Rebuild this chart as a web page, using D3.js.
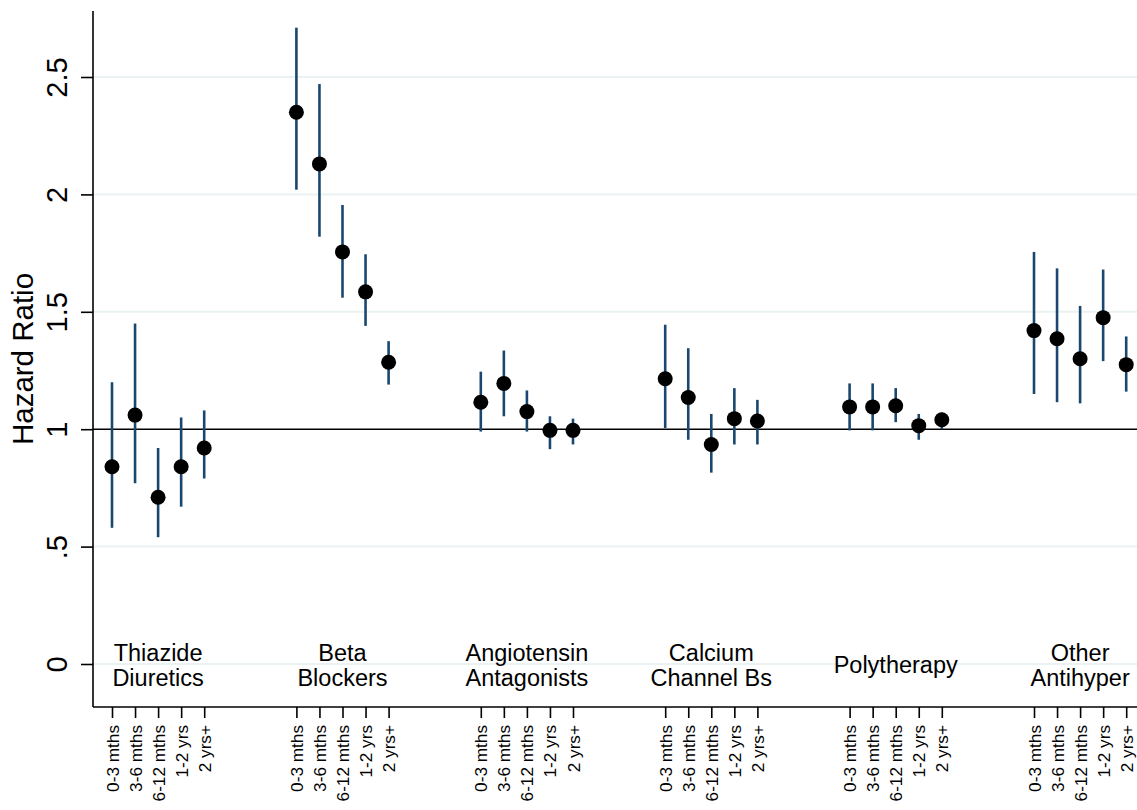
<!DOCTYPE html>
<html>
<head>
<meta charset="utf-8">
<script src="https://cdn.jsdelivr.net/npm/d3@7"></script>
<style>
  html, body { margin: 0; padding: 0; background: #fff; }
  svg { display: block; font-family: "Liberation Sans", Arial, sans-serif; }
</style>
</head>
<body>
<svg id="chart" width="1137" height="810"></svg>
<script>
// ---- data ----
const groups = [
  ["Thiazide", "Diuretics"],
  ["Beta", "Blockers"],
  ["Angiotensin", "Antagonists"],
  ["Calcium", "Channel Bs"],
  ["Polytherapy"],
  ["Other", "Antihyper"]
];
const periods = ["0-3 mths", "3-6 mths", "6-12 mths", "1-2 yrs", "2 yrs+"];
const hazardRatio = [
  [0.84, 1.06, 0.71, 0.84, 0.92],
  [2.35, 2.13, 1.755, 1.585, 1.285],
  [1.115, 1.195, 1.075, 0.995, 0.995],
  [1.215, 1.135, 0.935, 1.045, 1.035],
  [1.095, 1.095, 1.10, 1.015, 1.04],
  [1.42, 1.385, 1.30, 1.475, 1.275]
];
const ciLower = [
  [0.58, 0.77, 0.54, 0.67, 0.79],
  [2.02, 1.82, 1.56, 1.44, 1.19],
  [0.99, 1.055, 0.99, 0.915, 0.935],
  [1.005, 0.955, 0.815, 0.935, 0.935],
  [0.995, 0.995, 1.03, 0.955, 1.00],
  [1.15, 1.115, 1.11, 1.29, 1.16]
];
const ciUpper = [
  [1.20, 1.45, 0.92, 1.05, 1.08],
  [2.71, 2.47, 1.955, 1.745, 1.375],
  [1.245, 1.335, 1.165, 1.055, 1.045],
  [1.445, 1.345, 1.065, 1.175, 1.125],
  [1.195, 1.195, 1.175, 1.065, 1.07],
  [1.755, 1.685, 1.525, 1.68, 1.395]
];
const yTicks = [0, 0.5, 1, 1.5, 2, 2.5];
const yTickLabels = ["0", ".5", "1", "1.5", "2", "2.5"];
const yTitle = "Hazard Ratio";
const refLine = 1;
const groupStride = 8;

// ---- build rows ----
const rows = [];
groups.forEach((g, gi) => {
  periods.forEach((p, pi) => {
    rows.push({ gi, pi, idx: gi * groupStride + pi, period: p,
      hr: hazardRatio[gi][pi], lo: ciLower[gi][pi], hi: ciUpper[gi][pi] });
  });
});

const svg = d3.select("#chart");
const x = d3.scaleLinear().domain([0, 40]).range([112, 1034]);
const y = d3.scaleLinear().domain([0, 2.5]).range([664, 77]);
const pLeft = 93, pRight = 1137, pTop = 11, pBottom = 707;

// gridlines
svg.append("g").selectAll("line").data(yTicks.filter(t => t !== refLine)).join("line")
  .attr("x1", pLeft).attr("x2", pRight)
  .attr("y1", d => y(d)).attr("y2", d => y(d))
  .attr("stroke", "#eaf2f3").attr("stroke-width", 2);

// reference line
svg.append("line")
  .attr("x1", pLeft).attr("x2", pRight)
  .attr("y1", y(refLine)).attr("y2", y(refLine))
  .attr("stroke", "#000").attr("stroke-width", 1.6);

// group labels
const gl = svg.append("g").attr("font-size", 23.5).attr("fill", "#000").attr("text-anchor", "middle");
groups.forEach((lines, gi) => {
  const cx = x(gi * groupStride + 2);
  const t = gl.append("text").attr("x", cx);
  lines.forEach((ln, i) => {
    t.append("tspan").attr("x", cx)
      .attr("y", y(0) + (i - (lines.length - 1) / 2) * 25 + 9)
      .text(ln);
  });
});

// error bars
svg.append("g").selectAll("line").data(rows).join("line")
  .attr("x1", d => x(d.idx)).attr("x2", d => x(d.idx))
  .attr("y1", d => y(d.lo)).attr("y2", d => y(d.hi))
  .attr("stroke", "#1a476f").attr("stroke-width", 2.6);

// points
svg.append("g").selectAll("circle").data(rows).join("circle")
  .attr("cx", d => x(d.idx)).attr("cy", d => y(d.hr))
  .attr("r", 7.5).attr("fill", "#000");

// y axis
const yAxis = d3.axisLeft(y).tickValues(yTicks)
  .tickFormat((d, i) => yTickLabels[i]).tickSize(12).tickPadding(14);
const ya = svg.append("g").attr("transform", `translate(${pLeft},0)`).call(yAxis);
ya.select(".domain").remove();
ya.selectAll(".tick line").attr("stroke", "#000").attr("stroke-width", 1.6);
ya.selectAll(".tick text")
  .attr("font-size", 29).attr("font-family", "Liberation Sans, Arial, sans-serif")
  .attr("fill", "#000")
  .attr("text-anchor", "middle")
  .attr("transform", "rotate(-90)")
  .attr("x", 0).attr("y", -26).attr("dy", "0");
svg.append("line").attr("x1", pLeft).attr("x2", pLeft).attr("y1", pTop).attr("y2", pBottom)
  .attr("stroke", "#000").attr("stroke-width", 1.6);

// x axis
const tickIdx = rows.map(r => r.idx);
const xAxis = d3.axisBottom(x).tickValues(tickIdx)
  .tickFormat(d => periods[d % groupStride]).tickSize(11).tickPadding(6);
const xa = svg.append("g").attr("transform", `translate(0,${pBottom})`).call(xAxis);
xa.select(".domain").remove();
xa.selectAll(".tick line").attr("stroke", "#000").attr("stroke-width", 1.6);
xa.selectAll(".tick text")
  .attr("font-size", 17.2).attr("font-family", "Liberation Sans, Arial, sans-serif")
  .attr("fill", "#000")
  .attr("text-anchor", "end")
  .attr("transform", "rotate(-90)")
  .attr("x", -18).attr("y", 0).attr("dy", "0.35em");
svg.append("line").attr("x1", pLeft).attr("x2", pRight).attr("y1", pBottom).attr("y2", pBottom)
  .attr("stroke", "#000").attr("stroke-width", 1.6);

// y title
svg.append("text")
  .attr("transform", `translate(33,${(pTop + pBottom) / 2}) rotate(-90)`)
  .attr("text-anchor", "middle").attr("font-size", 29.5).attr("fill", "#000")
  .text(yTitle);
</script>
</body>
</html>
